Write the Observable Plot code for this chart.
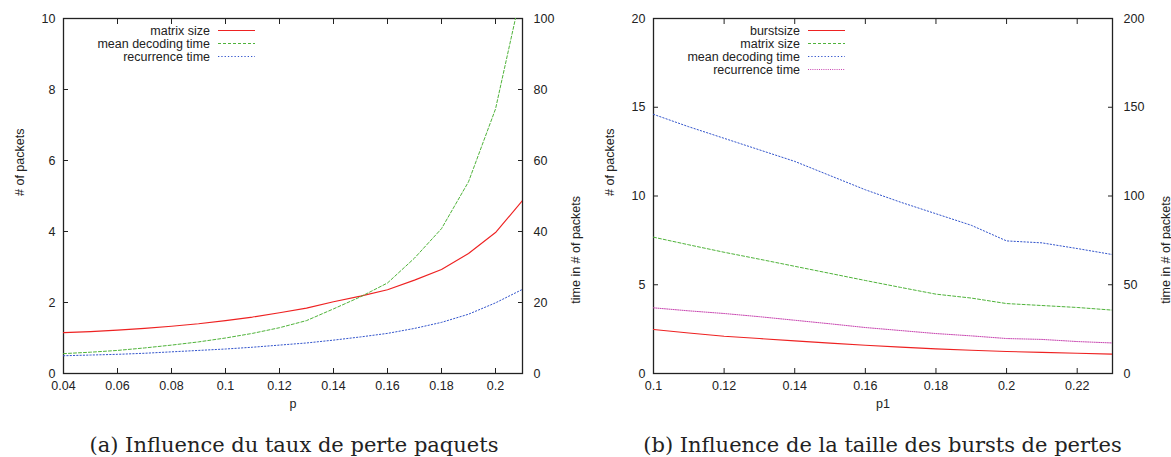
<!DOCTYPE html>
<html>
<head>
<meta charset="utf-8">
<script src="https://cdn.jsdelivr.net/npm/d3@7"></script>
<script src="https://cdn.jsdelivr.net/npm/@observablehq/plot@0.6"></script>
<style>
  body { margin:0; width:1171px; height:457px; position:relative; background:#fff; overflow:hidden; font-family:"Liberation Sans", Arial, sans-serif; }
  .panel { position:absolute; top:0; }
  .legend { position:absolute; top:24px; left:10px; font-size:12.5px; color:#222; }
  .legend .row { display:flex; align-items:center; height:13px; }
  .legend .row span { width:200px; text-align:right; white-space:nowrap; }
  .legend .row svg { margin-left:8px; }
  .caption { position:absolute; top:433px; font-family:"DejaVu Serif", serif; font-size:21px; color:#222; text-align:center; white-space:nowrap; }
</style>
</head>
<body>
<div id="a" class="panel" style="left:0"></div>
<div id="b" class="panel" style="left:590px"></div>
<div class="caption" style="left:0; width:588px;">(a) Influence du taux de perte paquets</div>
<div class="caption" style="left:590px; width:585px;">(b) Influence de la taille des bursts de pertes</div>
<script>
// ---- Panel (a) data ----
const pA = [0.04,0.05,0.06,0.07,0.08,0.09,0.10,0.11,0.12,0.13,0.14,0.15,0.16,0.17,0.18,0.19,0.20,0.21];
const matrixSizeA = [1.15,1.18,1.22,1.27,1.33,1.40,1.49,1.59,1.71,1.84,2.02,2.18,2.36,2.63,2.93,3.38,3.97,4.87];
const meanDecodingA = [5.6,6.0,6.5,7.2,8.0,8.9,10.0,11.3,12.9,14.9,18.2,21.6,25.5,32.5,40.8,54,74.5,109];
const recurrenceA = [5.0,5.2,5.4,5.7,6.1,6.5,6.9,7.4,8.0,8.6,9.4,10.3,11.3,12.7,14.4,16.7,19.9,23.7];
const xTicksA = [0.04,0.06,0.08,0.1,0.12,0.14,0.16,0.18,0.2];
const yLeftTicksA = [0,2,4,6,8,10];
const yRightTicksA = [0,20,40,60,80,100];

// ---- Panel (b) data ----
const pB = [0.10,0.11,0.12,0.13,0.14,0.15,0.16,0.17,0.18,0.19,0.20,0.21,0.22,0.23];
const burstSizeB = [2.48,2.28,2.10,1.97,1.84,1.71,1.59,1.49,1.39,1.31,1.24,1.19,1.14,1.09];
const matrixSizeB = [7.68,7.25,6.83,6.44,6.04,5.64,5.24,4.85,4.47,4.25,3.94,3.83,3.72,3.57];
const meanDecodingB = [146,139,132.5,126,119.5,111.5,103.5,96.5,90,83.5,74.7,73.6,70.4,67.0];
const recurrenceB = [37.0,35.3,33.8,32.0,30.0,28.0,25.9,24.2,22.5,21.2,19.7,19.2,18.0,17.2];
const xTicksB = [0.1,0.12,0.14,0.16,0.18,0.2,0.22];
const yLeftTicksB = [0,5,10,15,20];
const yRightTicksB = [0,50,100,150,200];

const COL = { red:"#ee2222", green:"#4fb33a", blue:"#3355cc", pink:"#c845b0" };
const DASH = { solid:null, dashed:"3,2", dotted:"1.3,2", fine:"1,1.2" };
const FS = 12.5;
const fmt = d => String(+(+d).toFixed(2));

function series(xs, ys, scale=1) { return xs.map((p,i) => ({p, v: ys[i] / scale})); }

function panel({xDomain, yMax, ratio, xTicks, yLeft, yRight, lines, xLabel, width, marginRight}) {
  const common = {fontSize: FS, label: null};
  const marks = [
    Plot.frame({stroke:"#222", strokeWidth:1.3}),
    // inward ticks (gnuplot style) on all four sides
    Plot.axisX(xTicks, {anchor:"bottom", tickSize:5, dy:-5, fill:"none", label:null, stroke:"#222"}),
    Plot.axisX(xTicks, {anchor:"top", tickSize:5, dy:5, fill:"none", label:null, stroke:"#222"}),
    Plot.axisY(yLeft, {anchor:"left", tickSize:5, dx:5, fill:"none", label:null, stroke:"#222"}),
    Plot.axisY(yRight.map(v => v/ratio), {anchor:"right", tickSize:5, dx:-5, fill:"none", label:null, stroke:"#222"}),
    // tick labels
    Plot.axisX(xTicks, {...common, anchor:"bottom", tickSize:0, tickPadding:8, tickFormat: fmt, fill:"#222"}),
    Plot.axisY(yLeft, {...common, anchor:"left", tickSize:0, tickPadding:8, tickFormat: fmt, fill:"#222"}),
    Plot.axisY(yRight.map(v => v/ratio), {...common, anchor:"right", tickSize:0, tickPadding:11, tickFormat: d => fmt(d*ratio), fill:"#222"}),
    // axis titles
    Plot.text([xLabel], {text: d => d, frameAnchor:"bottom", dy:34, fontSize:FS, fill:"#222"}),
    Plot.text(["# of packets"], {text: d => d, frameAnchor:"left", dx:-44, rotate:-90, fontSize:FS, fill:"#222"}),
    Plot.text(["time in # of packets"], {text: d => d, frameAnchor:"right", dx:53, rotate:-90, fontSize:FS, fill:"#222"}),
  ];
  for (const L of lines) {
    marks.push(Plot.line(L.data, {x:"p", y:"v", stroke:L.color, strokeWidth:L.dash ? 1 : 1.15, strokeDasharray:L.dash, clip:true, curve:"linear"}));
  }
  return Plot.plot({
    width, height:420,
    marginLeft:63, marginRight, marginTop:18, marginBottom:47,
    style:{fontFamily:'"Liberation Sans", Arial, sans-serif', fontSize: FS+"px", background:"transparent", color:"#222"},
    x:{type:"linear", domain:xDomain},
    y:{type:"linear", domain:[0, yMax]},
    marks
  });
}

function legend(items) {
  const div = document.createElement("div");
  div.className = "legend";
  for (const it of items) {
    const row = document.createElement("div");
    row.className = "row";
    const s = document.createElement("span");
    s.textContent = it.label;
    row.appendChild(s);
    const ns = "http://www.w3.org/2000/svg";
    const svg = document.createElementNS(ns, "svg");
    svg.setAttribute("width", 37); svg.setAttribute("height", 13);
    const ln = document.createElementNS(ns, "line");
    ln.setAttribute("x1", 0); ln.setAttribute("x2", 37);
    ln.setAttribute("y1", 6.5); ln.setAttribute("y2", 6.5);
    ln.setAttribute("stroke", it.color); ln.setAttribute("stroke-width", it.dash ? 1 : 1.15);
    if (it.dash) ln.setAttribute("stroke-dasharray", it.dash);
    svg.appendChild(ln);
    row.appendChild(svg);
    div.appendChild(row);
  }
  return div;
}

// Panel (a)
const linesA = [
  {label:"matrix size", data: series(pA, matrixSizeA), color:COL.red, dash:DASH.solid},
  {label:"mean decoding time", data: series(pA, meanDecodingA, 10), color:COL.green, dash:DASH.dashed},
  {label:"recurrence time", data: series(pA, recurrenceA, 10), color:COL.blue, dash:DASH.dotted},
];
const elA = document.getElementById("a");
elA.appendChild(panel({xDomain:[0.04,0.21], yMax:10, ratio:10, xTicks:xTicksA, yLeft:yLeftTicksA, yRight:yRightTicksA, lines:linesA, xLabel:"p", width:590, marginRight:68}));
elA.appendChild(legend(linesA));

// Panel (b)
const linesB = [
  {label:"burstsize", data: series(pB, burstSizeB), color:COL.red, dash:DASH.solid},
  {label:"matrix size", data: series(pB, matrixSizeB), color:COL.green, dash:DASH.dashed},
  {label:"mean decoding time", data: series(pB, meanDecodingB, 10), color:COL.blue, dash:DASH.dotted},
  {label:"recurrence time", data: series(pB, recurrenceB, 10), color:COL.pink, dash:DASH.fine},
];
const elB = document.getElementById("b");
elB.appendChild(panel({xDomain:[0.1,0.23], yMax:20, ratio:10, xTicks:xTicksB, yLeft:yLeftTicksB, yRight:yRightTicksB, lines:linesB, xLabel:"p1", width:581, marginRight:59}));
elB.appendChild(legend(linesB));
</script>
</body>
</html>
